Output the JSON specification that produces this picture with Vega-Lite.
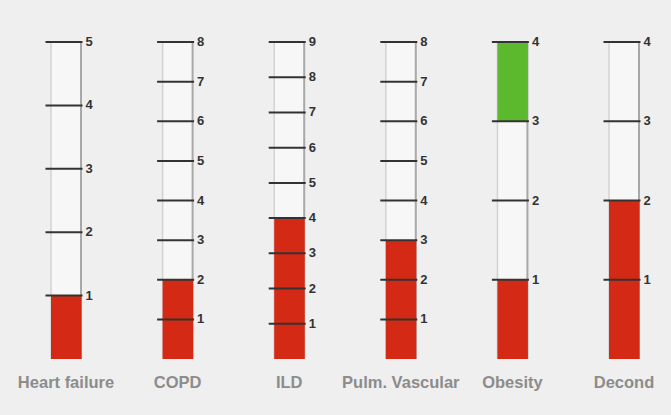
{
  "$schema": "https://vega.github.io/schema/vega-lite/v6.json",
  "padding": {"left": 17, "top": 36, "right": 5, "bottom": 30},
  "background": "#efefef",
  "config": {"view": {"stroke": null}},
  "data": {"values": [
    {"cat": "Heart failure", "kind": "tube", "lo": 0, "hi": 5},
    {"cat": "COPD", "kind": "tube", "lo": 0, "hi": 8},
    {"cat": "ILD", "kind": "tube", "lo": 0, "hi": 9},
    {"cat": "Pulm. Vascular", "kind": "tube", "lo": 0, "hi": 8},
    {"cat": "Obesity", "kind": "tube", "lo": 0, "hi": 4},
    {"cat": "Decond", "kind": "tube", "lo": 0, "hi": 4},
    {"cat": "Heart failure", "kind": "fill", "lo": 0, "hi": 1, "seg": "red"},
    {"cat": "COPD", "kind": "fill", "lo": 0, "hi": 2, "seg": "red"},
    {"cat": "ILD", "kind": "fill", "lo": 0, "hi": 4, "seg": "red"},
    {"cat": "Pulm. Vascular", "kind": "fill", "lo": 0, "hi": 3, "seg": "red"},
    {"cat": "Obesity", "kind": "fill", "lo": 0, "hi": 1, "seg": "red"},
    {"cat": "Obesity", "kind": "fill", "lo": 3, "hi": 4, "seg": "green"},
    {"cat": "Decond", "kind": "fill", "lo": 0, "hi": 2, "seg": "red"},
    {"cat": "Heart failure", "kind": "tick", "lo": 1},
    {"cat": "Heart failure", "kind": "tick", "lo": 2},
    {"cat": "Heart failure", "kind": "tick", "lo": 3},
    {"cat": "Heart failure", "kind": "tick", "lo": 4},
    {"cat": "Heart failure", "kind": "tick", "lo": 5},
    {"cat": "COPD", "kind": "tick", "lo": 1},
    {"cat": "COPD", "kind": "tick", "lo": 2},
    {"cat": "COPD", "kind": "tick", "lo": 3},
    {"cat": "COPD", "kind": "tick", "lo": 4},
    {"cat": "COPD", "kind": "tick", "lo": 5},
    {"cat": "COPD", "kind": "tick", "lo": 6},
    {"cat": "COPD", "kind": "tick", "lo": 7},
    {"cat": "COPD", "kind": "tick", "lo": 8},
    {"cat": "ILD", "kind": "tick", "lo": 1},
    {"cat": "ILD", "kind": "tick", "lo": 2},
    {"cat": "ILD", "kind": "tick", "lo": 3},
    {"cat": "ILD", "kind": "tick", "lo": 4},
    {"cat": "ILD", "kind": "tick", "lo": 5},
    {"cat": "ILD", "kind": "tick", "lo": 6},
    {"cat": "ILD", "kind": "tick", "lo": 7},
    {"cat": "ILD", "kind": "tick", "lo": 8},
    {"cat": "ILD", "kind": "tick", "lo": 9},
    {"cat": "Pulm. Vascular", "kind": "tick", "lo": 1},
    {"cat": "Pulm. Vascular", "kind": "tick", "lo": 2},
    {"cat": "Pulm. Vascular", "kind": "tick", "lo": 3},
    {"cat": "Pulm. Vascular", "kind": "tick", "lo": 4},
    {"cat": "Pulm. Vascular", "kind": "tick", "lo": 5},
    {"cat": "Pulm. Vascular", "kind": "tick", "lo": 6},
    {"cat": "Pulm. Vascular", "kind": "tick", "lo": 7},
    {"cat": "Pulm. Vascular", "kind": "tick", "lo": 8},
    {"cat": "Obesity", "kind": "tick", "lo": 1},
    {"cat": "Obesity", "kind": "tick", "lo": 2},
    {"cat": "Obesity", "kind": "tick", "lo": 3},
    {"cat": "Obesity", "kind": "tick", "lo": 4},
    {"cat": "Decond", "kind": "tick", "lo": 1},
    {"cat": "Decond", "kind": "tick", "lo": 2},
    {"cat": "Decond", "kind": "tick", "lo": 3},
    {"cat": "Decond", "kind": "tick", "lo": 4}
  ]},
  "facet": {
    "column": {
      "field": "cat",
      "type": "nominal",
      "sort": ["Heart failure", "COPD", "ILD", "Pulm. Vascular", "Obesity", "Decond"],
      "header": {
        "title": null,
        "labelOrient": "bottom",
        "labelFont": "Liberation Sans",
        "labelFontSize": 16.5,
        "labelFontWeight": "bold",
        "labelColor": "#8c8c8c",
        "labelPadding": 15,
        "labelLimit": 0
      }
    }
  },
  "spacing": {"column": 21.6},
  "resolve": {"scale": {"y": "independent"}},
  "spec": {
    "width": 90,
    "height": 317,
    "layer": [
      {
        "transform": [{"filter": "datum.kind === 'tube'"}],
        "mark": {"type": "rect", "fill": "#f7f7f7"},
        "encoding": {
          "x": {"datum": 29.5, "type": "quantitative", "scale": {"domain": [0, 90]}, "axis": null},
          "x2": {"datum": 60.5},
          "y": {"field": "lo", "type": "quantitative", "scale": {"zero": true, "nice": false}, "axis": null},
          "y2": {"field": "hi"}
        }
      },
      {
        "transform": [{"filter": "datum.kind === 'tube'"}],
        "mark": {"type": "rule", "stroke": "#d2d2d2", "strokeWidth": 1.5},
        "encoding": {
          "x": {"datum": 30, "type": "quantitative"},
          "y": {"field": "lo", "type": "quantitative"},
          "y2": {"field": "hi"}
        }
      },
      {
        "transform": [{"filter": "datum.kind === 'tube'"}],
        "mark": {"type": "rule", "stroke": "#a8a8a8", "strokeWidth": 2},
        "encoding": {
          "x": {"datum": 60, "type": "quantitative"},
          "y": {"field": "lo", "type": "quantitative"},
          "y2": {"field": "hi"}
        }
      },
      {
        "transform": [{"filter": "datum.kind === 'fill'"}],
        "mark": {"type": "rect"},
        "encoding": {
          "x": {"datum": 30, "type": "quantitative"},
          "x2": {"datum": 60.5},
          "y": {"field": "lo", "type": "quantitative"},
          "y2": {"field": "hi"},
          "color": {"field": "seg", "type": "nominal", "scale": {"domain": ["red", "green"], "range": ["#d42a15", "#5cb82c"]}, "legend": null}
        }
      },
      {
        "transform": [{"filter": "datum.kind === 'tick'"}],
        "mark": {"type": "rule", "stroke": "#333333", "strokeWidth": 2},
        "encoding": {
          "x": {"datum": 24.5, "type": "quantitative"},
          "x2": {"datum": 61.5},
          "y": {"field": "lo", "type": "quantitative"}
        }
      },
      {
        "transform": [{"filter": "datum.kind === 'tick'"}],
        "mark": {"type": "text", "align": "left", "baseline": "middle", "font": "Liberation Sans", "fontSize": 13, "fontWeight": "bold", "fill": "#333333"},
        "encoding": {
          "x": {"datum": 64.5, "type": "quantitative"},
          "y": {"field": "lo", "type": "quantitative"},
          "text": {"field": "lo", "type": "quantitative"}
        }
      }
    ]
  }
}
